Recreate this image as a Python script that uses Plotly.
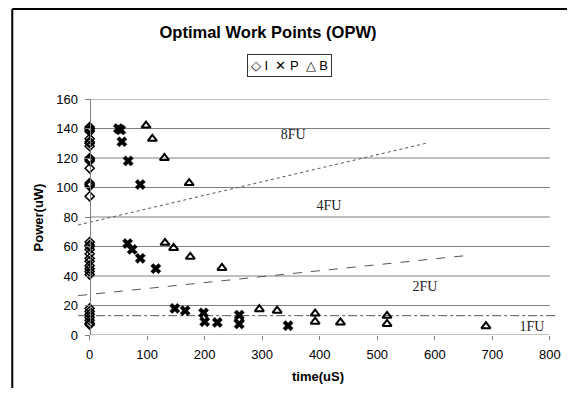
import plotly.graph_objects as go

# ---------------- data ----------------
I_time = [0]*34 + [260]
I_power = [141, 140, 139, 138, 133, 131, 130, 128, 120, 119, 118, 113, 103, 102, 101, 94,
           63, 61, 60, 58, 55, 52, 50, 47, 45, 43, 41,
           18, 16, 14, 12, 10, 8, 7] + [10]

P_time = [50, 54, 56, 67, 88, 66, 74, 88, 115, 148, 166, 198, 200, 222, 260, 260, 345]
P_power = [140, 139, 131, 118, 102, 62, 58, 52, 45, 18, 16.5, 15, 9, 8.5, 13.5, 7.5, 6.3]

B_time = [98, 109, 130, 173, 131, 146, 175, 230, 295, 326, 392, 392, 436, 517, 517, 689]
B_power = [142, 133, 120, 103, 62.5, 59, 53, 45.5, 17.5, 16.5, 14.5, 9, 8.5, 13, 7.5, 6]

# trend / boundary lines
fu8_time, fu8_power = [-20, 585], [74.6, 130]
fu2_time, fu2_power = [-20, 663], [26.7, 54.2]
fu1_time, fu1_power = [-20, 814], [13.1, 13.1]

fu_labels = ["8FU", "4FU", "2FU", "1FU"]
fu_label_time = [354, 416, 583, 769]
fu_label_power = [135, 87, 32, 5]

x_ticks = [0, 100, 200, 300, 400, 500, 600, 700, 800]
y_ticks = [0, 20, 40, 60, 80, 100, 120, 140, 160]

X_MIN, X_MAX = -22, 816

SANS = "Liberation Sans, Arial, sans-serif"
SERIF = "Liberation Serif, Times New Roman, serif"

# page body has an 8px default margin -> figure drawn smaller so the page does not overflow
W, H = 559, 380
L, R, T, B = 69, 6, 91, 53
plot_w = W - L - R
plot_h = H - T - B

fig = go.Figure()

line_col = "#555555"
fig.add_trace(go.Scatter(x=fu8_time, y=fu8_power, mode="lines", name="8FU",
                         line=dict(color=line_col, width=1, dash="dot"), showlegend=False))
fig.add_trace(go.Scatter(x=fu2_time, y=fu2_power, mode="lines", name="2FU",
                         line=dict(color=line_col, width=1, dash="dash"), showlegend=False))
fig.add_trace(go.Scatter(x=fu1_time, y=fu1_power, mode="lines", name="1FU",
                         line=dict(color=line_col, width=1, dash="dashdot"), showlegend=False))

fig.add_trace(go.Scatter(x=I_time, y=I_power, mode="markers", name="I", showlegend=False,
                         marker=dict(symbol="diamond-open", size=7, color="black",
                                     line=dict(width=1.5, color="black"))))
fig.add_trace(go.Scatter(x=P_time, y=P_power, mode="markers", name="P", showlegend=False,
                         marker=dict(symbol="x", size=9, color="black",
                                     line=dict(width=0.5, color="black"))))
fig.add_trace(go.Scatter(x=B_time, y=B_power, mode="markers", name="B", showlegend=False,
                         marker=dict(symbol="triangle-up-open", size=8, color="black",
                                     line=dict(width=2, color="black"))))

# FU labels
fig.add_trace(go.Scatter(x=fu_label_time, y=fu_label_power, mode="text", text=fu_labels,
                         textfont=dict(family=SERIF, size=14, color="#222222"),
                         textposition="middle center", showlegend=False, cliponaxis=False,
                         hoverinfo="skip"))

shapes = []
grid_col = "#808080"
for yv in y_ticks[1:]:
    shapes.append(dict(type="line", xref="x", yref="y", x0=x_ticks[0], x1=x_ticks[-1],
                       y0=yv, y1=yv, line=dict(color=grid_col, width=1), layer="below"))
# x axis line
shapes.append(dict(type="line", xref="x", yref="y", x0=x_ticks[0], x1=x_ticks[-1],
                   y0=0, y1=0, line=dict(color=grid_col, width=1), layer="below"))
# outer chart frame (top and left edges visible), kept inside the figure
fx0 = (4 - L) / plot_w          # 4px from figure left
fx1 = (W + 20 - L) / plot_w     # past the figure right edge
fy1 = 1 + (T - 0) / plot_h      # figure top
fy0 = -(B + 20) / plot_h        # past the figure bottom
shapes.append(dict(type="line", xref="paper", yref="paper", x0=fx0, x1=fx1,
                   y0=fy1 - 1 / plot_h, y1=fy1 - 1 / plot_h, line=dict(color="black", width=2)))
shapes.append(dict(type="line", xref="paper", yref="paper", x0=fx0, x1=fx0,
                   y0=fy0, y1=fy1 - 1 / plot_h, line=dict(color="black", width=2)))

annotations = [
    dict(text="◇ I  ✕ P  △ B", xref="paper", yref="paper", x=0.441, y=1.142,
         xanchor="center", yanchor="middle", showarrow=False,
         font=dict(family=SANS, size=13, color="black"),
         bordercolor="#333333", borderwidth=1, borderpad=3, bgcolor="white"),
    dict(text="<b>Power(uW)</b>", xref="paper", yref="paper", x=-0.08, y=0.5,
         xanchor="center", yanchor="middle", textangle=-90, showarrow=False,
         font=dict(family=SANS, size=13, color="black")),
]

fig.update_layout(
    width=W, height=H,
    margin=dict(l=L, r=R, t=T, b=B),
    paper_bgcolor="white", plot_bgcolor="white",
    title=dict(text="<b>Optimal Work Points (OPW)</b>", x=260/W, xanchor="center",
               y=1 - 24/H, yanchor="middle",
               font=dict(family=SANS, size=16.5, color="black")),
    xaxis=dict(range=[X_MIN, X_MAX], tickvals=x_ticks, showgrid=False, zeroline=False,
               showline=False, ticks="outside", ticklen=4, tickcolor=grid_col,
               ticklabelstandoff=3,
               tickfont=dict(family=SANS, size=13, color="black"),
               title=dict(text="<b>time(uS)</b>", standoff=11,
                          font=dict(family=SANS, size=13, color="black"))),
    yaxis=dict(range=[0, 160], tickvals=y_ticks, showgrid=False, zeroline=False,
               anchor="free", position=(0 - X_MIN) / (X_MAX - X_MIN),
               showline=True, linecolor=grid_col, linewidth=1,
               ticks="outside", ticklen=5, tickcolor=grid_col, ticklabelstandoff=4,
               tickfont=dict(family=SANS, size=13, color="black")),
    shapes=shapes,
    annotations=annotations,
    showlegend=False,
)

fig.write_html("out.html",
               post_script="document.documentElement.style.overflow='hidden';"
                           "document.body.style.overflow='hidden';")
